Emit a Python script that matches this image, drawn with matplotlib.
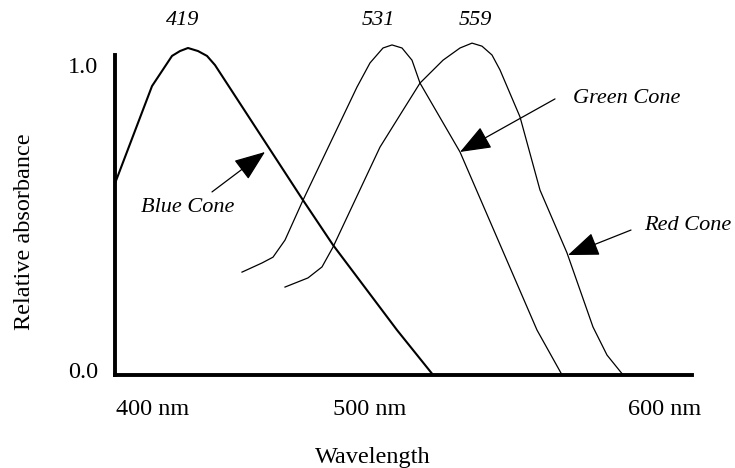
import numpy as np
import matplotlib
matplotlib.use("Agg")
import matplotlib.pyplot as plt

# cone absorbance curves (x: nm on the drawing's scale, y: relative)
blue_x = [384.0, 398.8, 406.8, 410.0, 413.2, 417.2, 420.8, 424.0, 459.2, 471.2, 496.8, 511.2]
blue_y = [0.612, 0.931, 1.030, 1.046, 1.056, 1.046, 1.030, 1.000, 0.557, 0.410, 0.131, -0.016]

green_x = [434.8, 442.8, 447.2, 452.0, 459.2, 480.8, 486.0, 491.2, 494.8, 498.8, 502.8, 506.0,
           522.0, 552.8, 562.8]
green_y = [0.321, 0.351, 0.370, 0.426, 0.557, 0.928, 1.007, 1.056, 1.066, 1.056, 1.016, 0.941,
           0.715, 0.131, -0.016]

red_x = [452.0, 461.2, 466.8, 471.2, 490.0, 499.2, 506.0, 515.2, 522.0, 526.8, 530.8, 534.8,
         538.0, 546.0, 554.0, 564.8, 575.2, 580.8, 587.2]
red_y = [0.272, 0.302, 0.338, 0.403, 0.731, 0.852, 0.941, 1.016, 1.056, 1.072, 1.062, 1.033,
         0.984, 0.830, 0.590, 0.384, 0.141, 0.049, -0.016]

peak_labels = ["419", "531", "559"]
cone_names = ["Blue Cone", "Green Cone", "Red Cone"]
x_ticks = [399, 486, 604]
x_tick_labels = ["400 nm", "500 nm", "600 nm"]
y_ticks = [0.0, 1.0]
y_tick_labels = ["0.0", "1.0"]

plt.rcParams["font.family"] = ["Liberation Serif", "DejaVu Serif"]

W, H = 735, 468
fig = plt.figure(figsize=(W / 100, H / 100), dpi=100)
# axes box in pixels: left 115, right 692, bottom 375, top 5
ax = fig.add_axes([115 / W, (H - 375) / H, (692 - 115) / W, (375 - 5) / H])
ax.set_xlim(384.0, 614.8)
ax.set_ylim(-0.0164, 1.197)

for s in ("top", "right"):
    ax.spines[s].set_visible(False)
for s in ("left", "bottom"):
    ax.spines[s].set_linewidth(2.8)
ax.spines["left"].set_bounds(-0.0164, 1.033)

ax.plot(blue_x, blue_y, color="black", lw=1.5, solid_joinstyle="round")
ax.plot(green_x, green_y, color="black", lw=0.9, solid_joinstyle="round")
ax.plot(red_x, red_y, color="black", lw=0.9, solid_joinstyle="round")

ax.set_xticks(x_ticks, x_tick_labels, fontsize=17.5)
ax.set_yticks(y_ticks, y_tick_labels, fontsize=17.5)
ax.tick_params(axis="both", length=0)
ax.tick_params(axis="y", pad=12)
ax.tick_params(axis="x", pad=17)

# peak wavelengths above each curve
offsets = [-5, -14, 3]
for xs, ys, lab, dx in zip([blue_x, green_x, red_x], [blue_y, green_y, red_y], peak_labels, offsets):
    i = int(np.argmax(ys))
    ax.annotate(lab, xy=(xs[i], 1.147), xytext=(dx, 0), textcoords="offset pixels",
                ha="center", va="center", fontsize=16, style="italic")

# cone labels with arrows
arrow_kw = dict(arrowstyle="-|>,head_length=1.3,head_width=0.5", color="black",
                lw=0.9, mutation_scale=15, shrinkA=0, shrinkB=0)
label_xy = [(413.2, 0.534), (588.8, 0.892), (613.2, 0.475)]
tails = [(422.8, 0.584), (560.0, 0.889), (590.4, 0.459)]
tips = [(444.0, 0.715), (522.0, 0.715), (565.2, 0.377)]
for name, (lx, ly), tail, tip in zip(cone_names, label_xy, tails, tips):
    ax.annotate("", xy=tip, xytext=tail, arrowprops=arrow_kw)
    ax.text(lx, ly, name, ha="center", va="center", fontsize=16, style="italic",
            clip_on=False)

fig.text(24 / W, 1 - 232 / H, "Relative absorbance", rotation=90, ha="center",
         va="center", fontsize=17.5)
fig.text(373 / W, 1 - 457 / H, "Wavelength", ha="center", va="center", fontsize=17.5)

fig.savefig("out.png", dpi=100)
